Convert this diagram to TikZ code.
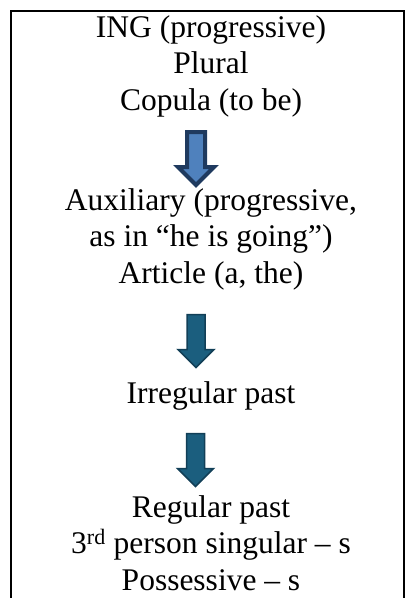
\documentclass[tikz,border=0pt]{standalone}
\usepackage{fontspec}
\setmainfont{Liberation Serif}
\usepackage{xcolor}
\usetikzlibrary{positioning}

\definecolor{arrownavy}{HTML}{1F3A5F}
\definecolor{arrowblue}{HTML}{4F81BD}
\definecolor{tealline}{HTML}{123F57}
\definecolor{tealfill}{HTML}{1B5E7E}

\begin{document}
\begin{tikzpicture}[x=1pt, y=1pt, node distance=36.5pt]

	% Define styles
	\tikzstyle{txt} = [inner sep=0pt, font=\fontsize{31.5}{36}\selectfont, text height=22pt, text depth=7pt, text centered]
	\tikzstyle{frame} = [line width=2pt, black]
	\tikzstyle{arrowlight} = [draw=arrownavy, line width=4pt, fill=arrowblue, line join=miter]
	\tikzstyle{arrowdark} = [draw=tealline, line width=1.5pt, fill=tealfill, line join=miter]

	\useasboundingbox (0,0) rectangle (405,-598);

	% Frame
	\draw[frame] (11,-598) -- (11,-11) -- (404,-11) -- (404,-598);

	% Nodes
	\node[txt, anchor=base] (ing) at (211,-37) {ING (progressive)};
	\node[txt, below of=ing] (plural) {Plural};
	\node[txt, below of=plural] (copula) {Copula (to be)};

	\node[txt, anchor=base] (aux) at (211,-210) {Auxiliary (progressive,};
	\node[txt, below of=aux] (asin) {as in “he is going”)};
	\node[txt, below of=asin] (article) {Article (a, the)};

	\node[txt, anchor=base] (irregular) at (211,-403) {Irregular past};

	\node[txt, anchor=base] (regular) at (211,-517) {Regular past};
	\node[txt, below of=regular] (third) {3\textsuperscript{rd} person singular – s};
	\node[txt, below of=third] (possessive) {Possessive – s};

	% Arrows
	\draw[arrowlight, shift={(196,-132)}] (-9,0) -- (-9,-35) -- (-18,-35) -- (0,-53) -- (18,-35) -- (9,-35) -- (9,0) -- cycle;
	\draw[arrowdark, shift={(196,-314.5)}] (-9,0) -- (-9,-35) -- (-18,-35) -- (0,-53) -- (18,-35) -- (9,-35) -- (9,0) -- cycle;
	\draw[arrowdark, shift={(195.5,-433.5)}] (-9,0) -- (-9,-35) -- (-18,-35) -- (0,-53) -- (18,-35) -- (9,-35) -- (9,0) -- cycle;

\end{tikzpicture}
\end{document}
